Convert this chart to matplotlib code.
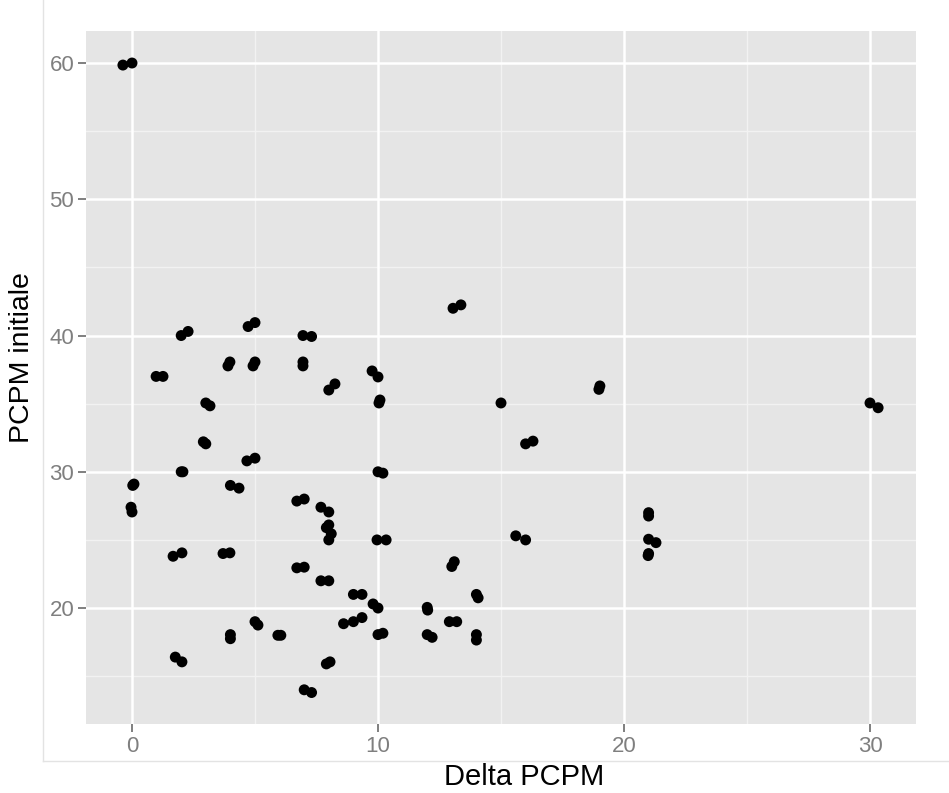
import matplotlib
matplotlib.use("Agg")
import matplotlib.pyplot as plt
from matplotlib.lines import Line2D

plt.rcParams['font.family'] = ['Liberation Sans', 'DejaVu Sans']

delta_pcpm = [
    -0.37, 0.0,
    2.0, 2.28, 4.72, 5.0, 6.95, 7.3, 13.05, 13.37,
    0.98, 1.26, 3.9, 3.98, 4.92, 5.0, 6.95, 6.95, 9.76, 10.0,
    8.0, 8.25, 3.0, 3.17, 10.04, 10.08,
    2.9, 3.0, 4.67, 5.0, 2.0, 2.07, 10.0, 10.2,
    0.03, 0.08, 4.0, 4.35, 6.7, 7.0, 7.68, 8.0, -0.04, 0.0,
    1.67, 2.03, 3.7, 3.98, 6.7, 7.0, 7.68, 8.0,
    7.9, 8.0, 8.1, 8.0, 9.96, 10.33,
    9.0, 9.35, 9.8, 10.0, 8.6, 9.0, 9.35, 10.0, 10.2,
    5.0, 5.12, 4.0, 4.0, 5.93, 6.05, 1.76, 2.03, 7.9, 8.05, 7.0, 7.3,
    13.0, 13.1, 15.6, 16.0, 14.0, 14.07, 12.0, 12.02, 12.9, 13.2,
    12.0, 12.2, 14.0, 14.0,
    15.0, 16.0, 16.3, 18.98, 19.02,
    21.0, 21.0, 21.0, 21.3, 21.0, 20.98,
    30.0, 30.33,
]
pcpm_initiale = [
    59.85, 60.0,
    40.0, 40.3, 40.66, 40.95, 40.0, 39.93, 42.0, 42.25,
    37.0, 37.0, 37.77, 38.06, 37.77, 38.06, 37.77, 38.06, 37.4, 36.96,
    36.0, 36.45, 35.05, 34.84, 35.05, 35.27,
    32.2, 32.05, 30.8, 31.0, 30.0, 30.0, 30.0, 29.9,
    29.0, 29.1, 29.0, 28.8, 27.85, 28.0, 27.4, 27.05, 27.4, 27.05,
    23.8, 24.05, 24.0, 24.05, 22.95, 23.0, 22.0, 22.0,
    25.9, 26.1, 25.45, 25.0, 25.0, 25.0,
    21.0, 21.0, 20.3, 20.0, 18.85, 19.0, 19.3, 18.05, 18.15,
    19.0, 18.75, 18.05, 17.75, 18.0, 18.0, 16.4, 16.05, 15.9, 16.05, 14.0, 13.8,
    23.05, 23.4, 25.3, 25.0, 21.0, 20.75, 20.05, 19.85, 19.0, 19.0,
    18.05, 17.85, 18.05, 17.65,
    35.05, 32.05, 32.25, 36.05, 36.3,
    27.0, 26.75, 25.05, 24.8, 24.0, 23.85,
    35.05, 34.7,
]

x_ticks = [0, 10, 20, 30]
x_minor = [5, 15, 25]
y_ticks = [20, 30, 40, 50, 60]
y_minor = [15, 25, 35, 45, 55]

W, H = 949, 793
fig = plt.figure(figsize=(W / 100, H / 100), dpi=100)
ax = fig.add_axes([86 / W, 1 - 724 / H, (916 - 86) / W, (724 - 31) / H])
ax.set_facecolor('#E5E5E5')

ax.set_xlim(-1.87, 31.87)
ax.set_ylim(11.49, 62.35)

for v in x_minor:
    ax.axvline(v, color='#F2F2F2', lw=1.0, zorder=0.5)
for v in y_minor:
    ax.axhline(v, color='#F2F2F2', lw=1.0, zorder=0.5)
for v in x_ticks:
    ax.axvline(v, color='white', lw=1.8, zorder=0.6)
for v in y_ticks:
    ax.axhline(v, color='white', lw=1.8, zorder=0.6)

ax.scatter(delta_pcpm, pcpm_initiale, s=62, color='black', edgecolors='none', zorder=3)

ax.set_xticks(x_ticks)
ax.set_yticks(y_ticks)
ax.set_xticklabels([str(t) for t in x_ticks])
ax.set_yticklabels([str(t) for t in y_ticks])
ax.tick_params(axis='both', colors='#7F7F7F', labelsize=16, length=5.5, width=1.4, pad=3)
for s in ax.spines.values():
    s.set_visible(False)

fig.text(524 / W, 1 - 777 / H, 'Delta PCPM', fontsize=21, color='black',
         ha='center', va='center')
fig.text(22 / W, 1 - 358 / H, 'PCPM initiale', fontsize=20.5, color='black',
         ha='center', va='center', rotation=90)

# faint outer frame seen in the reference
fig.add_artist(Line2D([43 / W, 43 / W], [1 - 761 / H, 1.0], transform=fig.transFigure,
                      color='#E3E3E3', lw=1.0))
fig.add_artist(Line2D([43 / W, 1.0], [1 - 761 / H, 1 - 761 / H], transform=fig.transFigure,
                      color='#E3E3E3', lw=1.0))

fig.savefig('out.png', dpi=100, facecolor='white')
